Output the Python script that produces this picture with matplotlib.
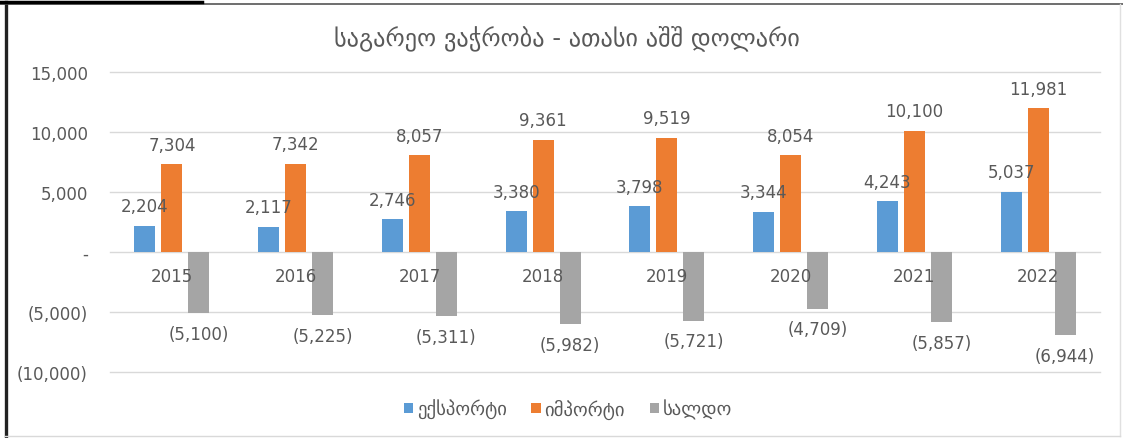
import numpy as np
import matplotlib
matplotlib.use('Agg')
import matplotlib.pyplot as plt
from matplotlib.lines import Line2D
from matplotlib.ticker import FuncFormatter

plt.rcParams['font.family'] = ['DejaVu Sans']

years = ['2015', '2016', '2017', '2018', '2019', '2020', '2021', '2022']
exports = [2204, 2117, 2746, 3380, 3798, 3344, 4243, 5037]
imports = [7304, 7342, 8057, 9361, 9519, 8054, 10100, 11981]
balance = [-5100, -5225, -5311, -5982, -5721, -4709, -5857, -6944]
series_names = ['ექსპორტი', 'იმპორტი', 'სალდო']
title = 'საგარეო ვაჭრობა - ათასი აშშ დოლარი'

colors = ['#5B9BD5', '#ED7D31', '#A5A5A5']
txt = '#595959'
W, H = 1123, 439


def fmt(v, pos=None):
    if v == 0:
        return '-'
    if v < 0:
        return '({:,.0f})'.format(-v)
    return '{:,.0f}'.format(v)


fig = plt.figure(figsize=(W / 100, H / 100), dpi=100)
ax = fig.add_axes([110 / W, 66 / H, 990 / W, 300 / H])

x = np.arange(len(years))
off = 0.218
bw = 0.17
for k, vals in enumerate([exports, imports, balance]):
    pos = x + (k - 1) * off
    ax.bar(pos, vals, width=bw, color=colors[k], label=series_names[k], zorder=3)
    for xi, v in zip(pos, vals):
        dy = 14 if v >= 0 else -15
        ax.annotate(fmt(v), (xi, v), xytext=(0, dy), textcoords='offset points',
                    ha='center', va='center', fontsize=12, color=txt, zorder=4)

# year labels just under the zero line
for xi, y in zip(x, years):
    ax.annotate(y, (xi, 0), xytext=(0, -17), textcoords='offset points',
                ha='center', va='center', fontsize=12, color=txt, zorder=4)

ax.set_xlim(-0.5, len(years) - 0.5)
ax.set_ylim(-10000, 15000)
ax.set_yticks(np.arange(-10000, 15001, 5000))
ax.yaxis.set_major_formatter(FuncFormatter(fmt))
ax.set_xticks([])
ax.tick_params(axis='y', length=0, pad=16, labelsize=12, labelcolor=txt)
ax.grid(axis='y', color='#D9D9D9', linewidth=1, zorder=0)
for gl in ax.get_ygridlines():
    gl.set_clip_on(False)
for s in ax.spines.values():
    s.set_visible(False)

fig.text(567 / W, 1 - 38 / H, title, ha='center', va='center', fontsize=17.5, color=txt)

fig.legend(loc='center', bbox_to_anchor=(568 / W, 1 - 410 / H), ncol=3, frameon=False,
           fontsize=13.5, labelcolor=txt, handlelength=0.5, handleheight=0.5,
           handletextpad=0.2, columnspacing=1.3)

# screenshot frame
fig.add_artist(Line2D([5.5 / W, 5.5 / W], [0, 1 - 3 / H], color='#222222', lw=2.4))
fig.add_artist(Line2D([0, 1], [1 - 4.5 / H, 1 - 4.5 / H], color='#555555', lw=1.2))
fig.add_artist(Line2D([0, 202 / W], [1 - 3 / H, 1 - 3 / H], color='black', lw=2.5))
fig.add_artist(Line2D([1120 / W, 1120 / W], [2 / H, 1 - 5 / H], color='#E0E0E0', lw=1))
fig.add_artist(Line2D([5 / W, 1120 / W], [2 / H, 2 / H], color='#D9D9D9', lw=1))

fig.savefig('out.png', dpi=100)
